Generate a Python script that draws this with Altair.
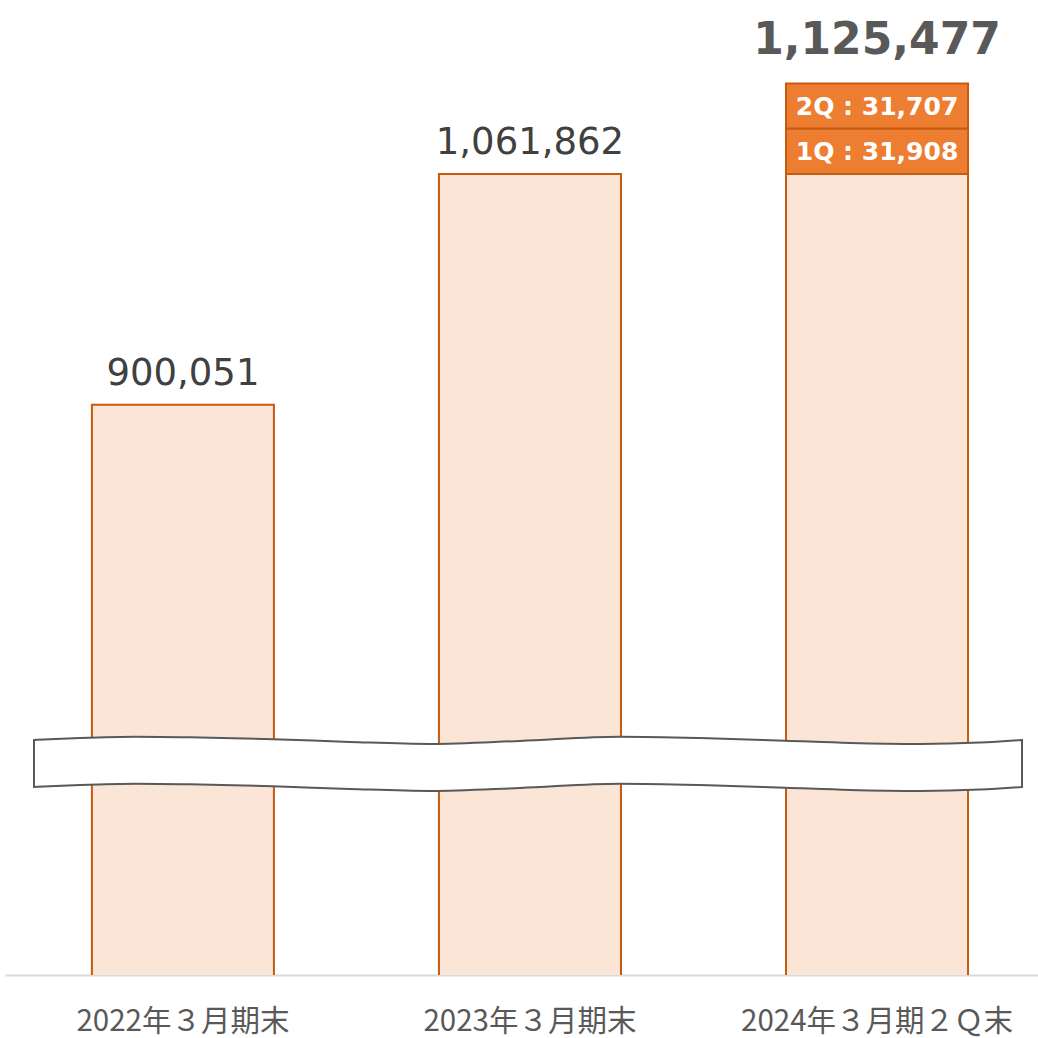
import altair as alt
import pandas as pd

# ---- data ----
categories = ["2022年３月期末", "2023年３月期末", "2024年３月期２Ｑ末"]
base_values = [900051, 1061862, 1061862]
totals = [900051, 1061862, 1125477]
quarter_names = ["1Q", "2Q"]
quarter_values = [31908, 31707]

# decorative axis-break band (x in plot pixels, y in value units)
wave_x = [29, 75, 132, 195, 268, 345, 425, 515, 615, 695, 780, 845, 915, 975, 1017]
wave_top = [664900, 666300, 667200, 666600, 665400, 663500, 662100, 664200,
            667200, 666300, 664400, 662800, 662100, 663100, 664900]
wave_thickness = 33000

Y_MIN, Y_MAX = 500000, 1184000
W, H = 1033, 975

base_df = pd.DataFrame({"cat": categories, "start": [0] * 3, "end": base_values})

q_rows = []
cum = base_values[2]
for n, v in zip(quarter_names, quarter_values):
    q_rows.append({"cat": categories[2], "start": cum, "end": cum + v,
                   "mid": cum + v / 2, "label": f"{n} : {v:,}"})
    cum += v
q_df = pd.DataFrame(q_rows)

tot_df = pd.DataFrame({"cat": categories, "total": totals,
                       "label": [f"{t:,}" for t in totals]})

wave_df = pd.DataFrame({"x": wave_x, "top": wave_top,
                        "bottom": [t - wave_thickness for t in wave_top]})

xscale = alt.Scale(domain=categories, paddingInner=0.4755, paddingOuter=0.226, align=0.554)
yscale = alt.Scale(domain=[Y_MIN, Y_MAX], nice=False, zero=False)

xenc = alt.X("cat:N", scale=xscale, sort=categories, title=None,
             axis=alt.Axis(labelAngle=0, ticks=False, domainColor="#D9D9D9", domainWidth=2,
                           labelFont="Noto Sans CJK JP", labelFontSize=29.5, labelLimit=0,
                           labelColor="#595959", labelPadding=32, grid=False))

bars = alt.Chart(base_df).mark_bar(fill="#FBE5D6", stroke="#C55A11", strokeWidth=2, clip=True).encode(
    x=xenc,
    y=alt.Y("start:Q", scale=yscale, axis=None),
    y2="end:Q",
)

qbars = alt.Chart(q_df).mark_bar(fill="#ED7D31", stroke="#C55A11", strokeWidth=2).encode(
    x=alt.X("cat:N", scale=xscale, sort=categories),
    y=alt.Y("start:Q", scale=yscale, axis=None),
    y2="end:Q",
)

qtext = alt.Chart(q_df).mark_text(font="DejaVu Sans", fontWeight="bold", fontSize=25,
                                  color="white", baseline="middle", dy=1).encode(
    x=alt.X("cat:N", scale=xscale, sort=categories),
    y=alt.Y("mid:Q", scale=yscale, axis=None),
    text="label:N",
)

tot_normal = alt.Chart(tot_df.iloc[:2]).mark_text(font="DejaVu Sans", fontSize=37,
                                                  color="#404040", baseline="alphabetic", dy=-20).encode(
    x=alt.X("cat:N", scale=xscale, sort=categories),
    y=alt.Y("total:Q", scale=yscale, axis=None),
    text="label:N",
)

tot_bold = alt.Chart(tot_df.iloc[2:]).mark_text(font="DejaVu Sans", fontWeight="bold", fontSize=44,
                                                color="#595959", baseline="alphabetic", dy=-29).encode(
    x=alt.X("cat:N", scale=xscale, sort=categories),
    y=alt.Y("total:Q", scale=yscale, axis=None),
    text="label:N",
)

main = alt.layer(bars, qbars, qtext, tot_normal, tot_bold)

wave = alt.Chart(wave_df).mark_area(fill="white", stroke="#595959", strokeWidth=2,
                                    interpolate="monotone", opacity=1).encode(
    x=alt.X("x:Q", scale=alt.Scale(domain=[0, W], nice=False, zero=False), axis=None),
    y=alt.Y("top:Q", scale=yscale, axis=None, stack=None),
    y2="bottom:Q",
)

chart = alt.layer(main, wave).resolve_scale(x="independent").properties(
    width=W, height=H,
    autosize=alt.AutoSizeParams(type="none"),
    padding={"left": 5, "top": 0, "right": 0, "bottom": 63},
).configure_view(stroke=None)

chart.save("out.html", embed_options={"renderer": "svg", "actions": False})
